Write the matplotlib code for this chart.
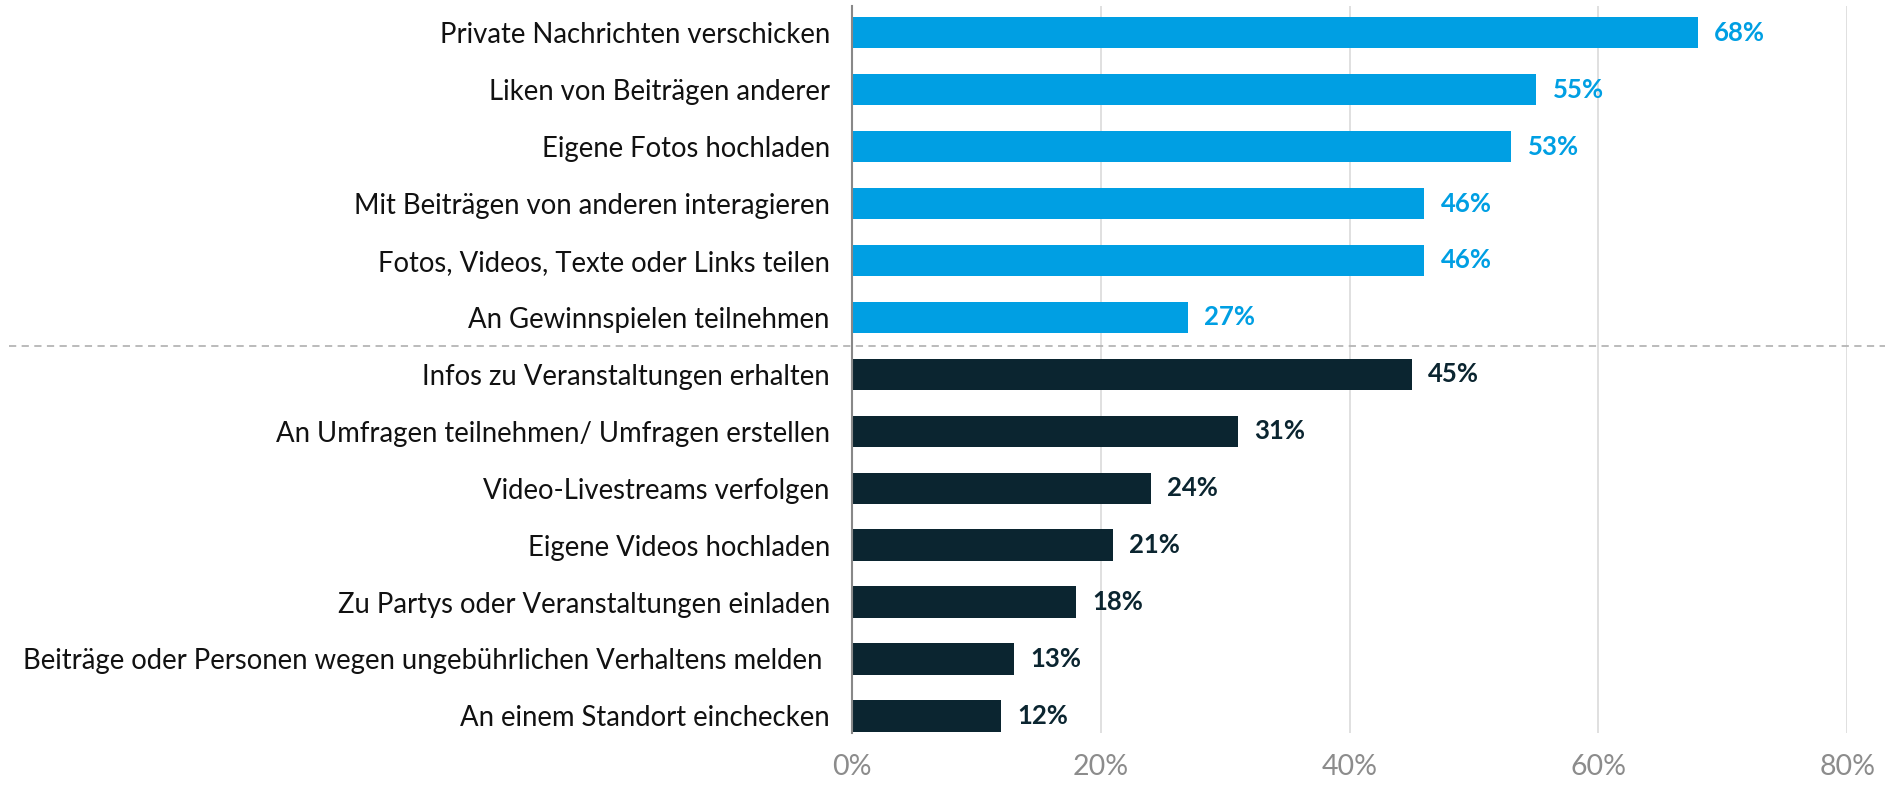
import matplotlib.pyplot as plt
import matplotlib.transforms as mtransforms
from matplotlib.lines import Line2D
import numpy as np

# Data (top to bottom)
categories = [
    "Private Nachrichten verschicken",
    "Liken von Beiträgen anderer",
    "Eigene Fotos hochladen",
    "Mit Beiträgen von anderen interagieren",
    "Fotos, Videos, Texte oder Links teilen",
    "An Gewinnspielen teilnehmen",
    "Infos zu Veranstaltungen erhalten",
    "An Umfragen teilnehmen/ Umfragen erstellen",
    "Video-Livestreams verfolgen",
    "Eigene Videos hochladen",
    "Zu Partys oder Veranstaltungen einladen",
    "Beiträge oder Personen wegen ungebührlichen Verhaltens melden ",
    "An einem Standort einchecken",
]
values = [68, 55, 53, 46, 46, 27, 45, 31, 24, 21, 18, 13, 12]
group = [0, 0, 0, 0, 0, 0, 1, 1, 1, 1, 1, 1, 1]
x_ticks = [0, 20, 40, 60, 80]

BLUE = "#009fe3"
DARK = "#0b2530"
colors = [BLUE if g == 0 else DARK for g in group]

plt.rcParams["font.family"] = ["Lato", "DejaVu Sans"]

fig = plt.figure(figsize=(18.85, 7.87), dpi=100)
ax = fig.add_axes([0.452, 0.0686, 0.528, 0.9238])

y = np.arange(len(categories))
ax.barh(y, values, height=0.55, color=colors, zorder=3)

for yi, v, c in zip(y, values, colors):
    ax.text(v + 1.3, yi, f"{v}%", va="center", ha="left", fontsize=18.5,
            fontweight="bold", color=c)

ax.set_xlim(0, 80)
ax.set_ylim(len(categories) - 0.7, -0.47)
ax.set_yticks(y)
ax.set_yticklabels(categories, fontsize=19.8, color="#111111")
ax.set_xticks(x_ticks)
ax.set_xticklabels([f"{t}%" for t in x_ticks], fontsize=20.5, color="#8c8c8c")
ax.tick_params(axis="both", length=0)
ax.tick_params(axis="y", pad=16)
ax.tick_params(axis="x", pad=15)

ax.grid(axis="x", color="#dddddd", linewidth=1.3, zorder=0)
for s in ["top", "right", "bottom"]:
    ax.spines[s].set_visible(False)
ax.spines["left"].set_color("#888888")
ax.spines["left"].set_linewidth(1.5)
ax.spines["left"].set_zorder(4)

# dashed separator between the two groups
trans = mtransforms.blended_transform_factory(fig.transFigure, ax.transData)
ax.add_line(Line2D([0.005, 1.0], [5.5, 5.5], transform=trans, color="#b5b5b5",
                   linestyle=(0, (4, 3)), linewidth=1.3, clip_on=False, zorder=2))

fig.savefig("out.png", dpi=100)
